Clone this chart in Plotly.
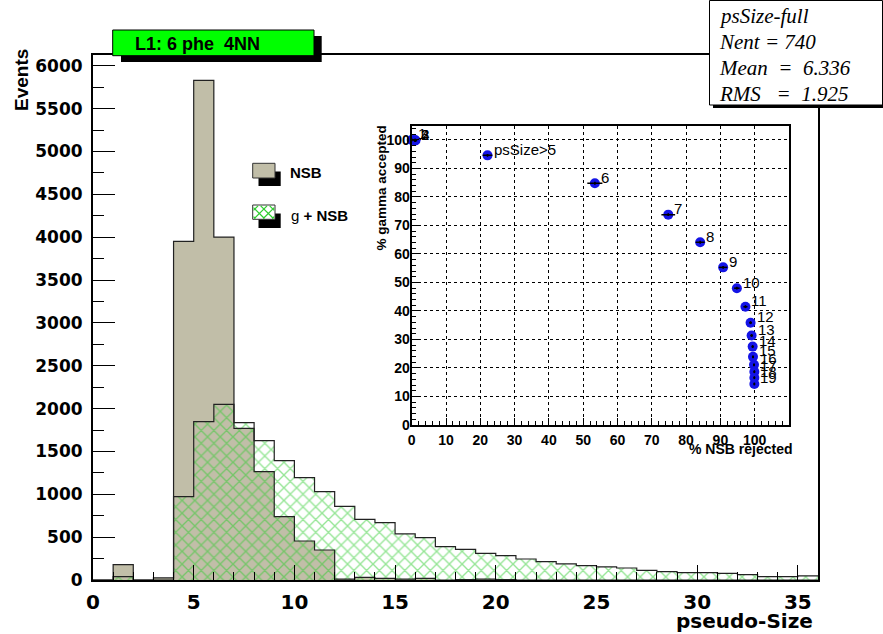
import plotly.graph_objects as go

# ---------------- data ----------------
bin_lo = list(range(36))  # bins of width 1 from 0 to 36
nsb = [0, 180, 0, 25, 3950, 5830, 4000, 1770, 1265, 740, 455, 350, 10, 30, 20, 10,
       20, 0, 5, 10, 5, 0, 0, 0, 0, 0, 0, 0, 0, 0, 0, 0, 0, 0, 0, 0]
gamma_nsb = [0, 40, 0, 0, 972, 1847, 2050, 1835, 1625, 1392, 1194, 1030, 860, 708, 669, 537,
             494, 389, 358, 311, 284, 245, 214, 187, 167, 152, 140, 113, 97, 86, 86, 78,
             62, 39, 39, 47]

cut_labels = ["1", "2", "3", "4", "psSize>5", "6", "7", "8", "9", "10", "11", "12",
              "13", "14", "15", "16", "17", "18", "19"]
nsb_rejected = [0.0, 1.0, 1.0, 1.1, 22.1, 53.4, 74.8, 84.1, 90.8, 94.8, 97.3, 98.8,
                99.1, 99.4, 99.5, 99.8, 99.9, 99.9, 99.9]
gamma_accepted = [100.0, 99.9, 99.9, 99.8, 94.6, 84.8, 73.8, 64.1, 55.3, 48.0, 41.5, 35.9,
                  31.4, 27.5, 23.9, 21.1, 18.7, 16.6, 14.4]
err_x = [0.3, 0.5, 0.5, 0.5, 1.4, 2.2, 2.0, 1.3, 1.2, 0.8, 0.6, 0.4, 0.4, 0.3, 0.3, 0.2,
         0.2, 0.2, 0.2]
err_y = [0.5] * len(gamma_accepted)

main_xticks = [0, 5, 10, 15, 20, 25, 30, 35]
inset_ticks = [0, 10, 20, 30, 40, 50, 60, 70, 80, 90, 100]

TAN = "#c1bea8"
GREEN = "#2ecc2e"
BLUE = "#1414e6"

# ---------------- geometry helpers (pixel -> paper) ----------------
W_FIG, H_FIG = 883, 634
L, R, T, B = 93, 818, 55, 580
PW, PH = R - L, B - T


def px(x):
    return (x - L) / PW


def py(y):
    return (B - y) / PH


centers = [b + 0.5 for b in bin_lo]
edges = bin_lo + [bin_lo[-1] + 1]

fig = go.Figure()

# NSB histogram fill
fig.add_trace(go.Bar(x=centers, y=nsb, width=1, marker=dict(color=TAN, line=dict(width=0)),
                     showlegend=False, hoverinfo="skip"))
# gamma + NSB hatched histogram
fig.add_trace(go.Bar(x=centers, y=gamma_nsb, width=1,
                     marker=dict(color="rgba(0,0,0,0)", line=dict(width=0),
                                 pattern=dict(shape="x", fgcolor=GREEN, bgcolor="rgba(0,0,0,0)",
                                              size=9, solidity=0.28)),
                     showlegend=False, hoverinfo="skip"))
# step outlines
fig.add_trace(go.Scatter(x=edges, y=nsb + [nsb[-1]], mode="lines", line_shape="hv",
                         line=dict(color="#222222", width=1.2), showlegend=False, hoverinfo="skip"))
fig.add_trace(go.Scatter(x=edges, y=gamma_nsb + [gamma_nsb[-1]], mode="lines", line_shape="hv",
                         line=dict(color="#222222", width=1.2), showlegend=False, hoverinfo="skip"))

# inset: efficiency points
fig.add_trace(go.Scatter(x=nsb_rejected, y=gamma_accepted, xaxis="x2", yaxis="y2",
                         mode="markers", marker=dict(color=BLUE, size=10, line=dict(width=0)),
                         showlegend=False, hoverinfo="skip", cliponaxis=False))
fig.add_trace(go.Scatter(x=nsb_rejected, y=gamma_accepted, xaxis="x2", yaxis="y2",
                         mode="markers", marker=dict(size=2, color="black", opacity=1),
                         error_x=dict(type="data", array=err_x, color="black", thickness=1.5, width=0),
                         error_y=dict(type="data", array=err_y, color="black", thickness=1.5, width=0),
                         showlegend=False, hoverinfo="skip"))

BOLD_DV = dict(family="DejaVu Sans", weight="bold", color="black")
BOLD_LS = dict(family="Liberation Sans", weight="bold", color="black")

fig.update_layout(
    width=W_FIG, height=H_FIG,
    margin=dict(l=L, r=W_FIG - R, t=T, b=H_FIG - B, pad=0),
    paper_bgcolor="white", plot_bgcolor="white",
    barmode="overlay", bargap=0, showlegend=False,
    xaxis=dict(range=[0, 36], tickvals=main_xticks, ticks="inside", ticklen=15, tickwidth=1,
               tickcolor="black", minor=dict(dtick=1, ticks="inside", ticklen=8, tickcolor="black"),
               showline=True, linewidth=2, linecolor="black", mirror=True, showgrid=False,
               zeroline=False, tickfont=dict(size=20, **BOLD_DV), ticklabelstandoff=3,
               domain=[0, 1]),
    yaxis=dict(range=[0, 6125], dtick=500, tick0=0, ticks="inside", ticklen=22, tickwidth=1,
               tickcolor="black", minor=dict(dtick=250, ticks="inside", ticklen=11, tickcolor="black"),
               showline=True, linewidth=2, linecolor="black", mirror=True, showgrid=False,
               zeroline=False, tickfont=dict(size=17, **BOLD_DV), ticklabelstandoff=5,
               domain=[0, 1]),
    xaxis2=dict(domain=[px(411.7), px(789)], anchor="y2", range=[0, 110], tickvals=inset_ticks,
                ticks="inside", ticklen=7, tickcolor="black",
                minor=dict(dtick=2, ticks="inside", ticklen=4, tickcolor="black", showgrid=False),
                showgrid=True, gridcolor="black", griddash="dot", gridwidth=1,
                showline=True, linewidth=2, linecolor="black", mirror=True, zeroline=False,
                tickfont=dict(size=14, **BOLD_LS), ticklabelstandoff=1),
    yaxis2=dict(domain=[py(425), py(125.7)], anchor="x2", range=[0, 105], tickvals=inset_ticks,
                ticks="inside", ticklen=7, tickcolor="black",
                minor=dict(dtick=2, ticks="inside", ticklen=4, tickcolor="black", showgrid=False),
                showgrid=True, gridcolor="black", griddash="dot", gridwidth=1,
                showline=True, linewidth=2, linecolor="black", mirror=True, zeroline=False,
                tickfont=dict(size=14, **BOLD_LS), ticklabelstandoff=-3),
)

shapes = []
annotations = []

# point labels in the inset
for lab, xv, yv in zip(cut_labels, nsb_rejected, gamma_accepted):
    annotations.append(dict(xref="x2", yref="y2", x=xv, y=yv, text=lab, showarrow=False,
                            xanchor="left", yanchor="middle", xshift=4, yshift=6,
                            font=dict(family="Liberation Sans", size=15, color="black")))

# title box with shadow
shapes.append(dict(type="rect", xref="paper", yref="paper", x0=px(121), x1=px(321.7),
                   y0=py(62), y1=py(36), fillcolor="black", line=dict(width=0), layer="above"))
shapes.append(dict(type="rect", xref="paper", yref="paper", x0=px(112.7), x1=px(314),
                   y0=py(55.7), y1=py(30), fillcolor="#00ff00", line=dict(color="black", width=1),
                   layer="above"))
annotations.append(dict(xref="paper", yref="paper", x=px(197), y=py(44), text="L1: 6 phe \u00a04NN",
                        showarrow=False, xanchor="center", yanchor="middle",
                        font=dict(size=18, **BOLD_LS)))

# stats box with shadow
shapes.append(dict(type="rect", xref="paper", yref="paper", x0=px(713), x1=px(886),
                   y0=py(108), y1=py(3), fillcolor="black", line=dict(width=0), layer="above"))
shapes.append(dict(type="rect", xref="paper", yref="paper", x0=px(709.5), x1=px(882.5),
                   y0=py(105), y1=py(0.5), fillcolor="white", line=dict(color="black", width=1),
                   layer="above"))
stats_lines = ["psSize-full", "Nent = 740", "Mean  =  6.336", "RMS   =  1.925"]
for i, s in enumerate(stats_lines):
    annotations.append(dict(xref="paper", yref="paper", x=px(717), y=py(16 + 26 * i),
                            text=s.replace("  ", "\u00a0\u00a0"), showarrow=False,
                            xanchor="left", yanchor="middle",
                            font=dict(family="Liberation Serif", style="italic", size=21, color="black")))

# legend
shapes.append(dict(type="rect", xref="paper", yref="paper", x0=px(258.5), x1=px(280.7),
                   y0=py(186), y1=py(171.5), fillcolor="black", line=dict(width=0), layer="above"))
shapes.append(dict(type="rect", xref="paper", yref="paper", x0=px(252.7), x1=px(275),
                   y0=py(178), y1=py(163.3), fillcolor=TAN, line=dict(color="#333333", width=1),
                   layer="above"))
shapes.append(dict(type="rect", xref="paper", yref="paper", x0=px(258.5), x1=px(280.7),
                   y0=py(228), y1=py(213.5), fillcolor="black", line=dict(width=0), layer="above"))
shapes.append(dict(type="rect", xref="paper", yref="paper", x0=px(252.7), x1=px(275),
                   y0=py(219.3), y1=py(205), fillcolor="white", line=dict(color="#333333", width=1),
                   layer="above"))


def hatch_segments(x0, y0, x1, y1, step):
    segs = []
    c = (y0 - x1) + step / 2
    while c < y1 - x0:
        xs, xe = max(x0, y0 - c), min(x1, y1 - c)
        if xe > xs:
            segs.append((xs, xs + c, xe, xe + c))
        c += step
    c = (x0 + y0) + step / 2
    while c < x1 + y1:
        xs, xe = max(x0, c - y1), min(x1, c - y0)
        if xe > xs:
            segs.append((xs, c - xs, xe, c - xe))
        c += step
    return segs


for (a, b, c, d) in hatch_segments(253.5, 205.8, 274.2, 218.5, 9):
    shapes.append(dict(type="line", xref="paper", yref="paper", x0=px(a), y0=py(b), x1=px(c), y1=py(d),
                       line=dict(color=GREEN, width=1.2), layer="above"))

annotations.append(dict(xref="paper", yref="paper", x=px(288), y=py(173), text="NSB",
                        showarrow=False, xanchor="left", yanchor="middle", font=dict(size=15, **BOLD_LS)))
annotations.append(dict(xref="paper", yref="paper", x=px(289), y=py(215),
                        text="g <b>+ NSB</b>", showarrow=False, xanchor="left", yanchor="middle",
                        font=dict(family="Liberation Sans", size=15, color="black")))

# axis titles
annotations.append(dict(xref="paper", yref="paper", x=px(22), y=py(47), text="Events", textangle=-90,
                        showarrow=False, xanchor="center", yanchor="top", font=dict(size=19, **BOLD_LS)))
annotations.append(dict(xref="paper", yref="paper", x=px(815), y=py(621), text="pseudo-Size",
                        showarrow=False, xanchor="right", yanchor="middle", font=dict(size=20, **BOLD_DV)))
annotations.append(dict(xref="paper", yref="paper", x=px(381), y=py(124), text="% gamma accepted",
                        textangle=-90, showarrow=False, xanchor="center", yanchor="top",
                        font=dict(size=13.5, **BOLD_LS)))
annotations.append(dict(xref="paper", yref="paper", x=px(794), y=py(449), text="% NSB rejected",
                        showarrow=False, xanchor="right", yanchor="middle", font=dict(size=14, **BOLD_LS)))

fig.update_layout(shapes=shapes, annotations=annotations)
fig.write_html("out.html", config={"displayModeBar": False},
               post_script="document.body.style.margin='0';document.body.style.overflow='hidden';")
